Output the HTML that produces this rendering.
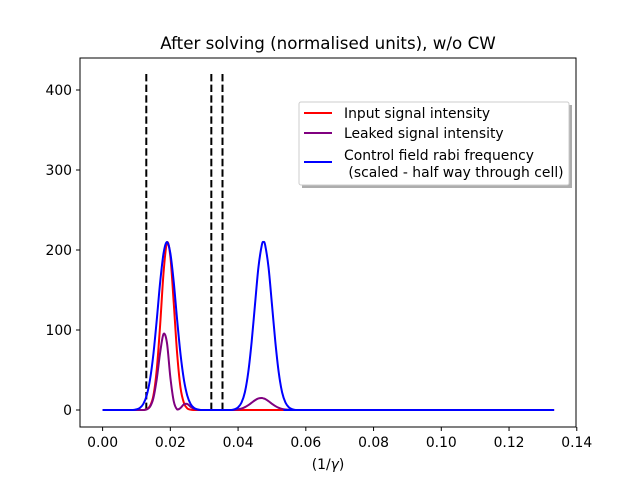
<!DOCTYPE html>
<html><head><meta charset="utf-8"><style>
body{margin:0;background:#fff;}
svg{display:block;font-family:"DejaVu Sans","Liberation Sans",sans-serif;}
</style></head><body>
<svg id="chart" width="640" height="480" viewBox="0 0 640 480">
<rect width="640" height="480" fill="#fff"/>
<text x="328" y="49" font-size="16.7" text-anchor="middle">After solving (normalised units), w/o CW</text>
<g id="plot"></g>
<rect x="80" y="58" width="496" height="369" fill="none" stroke="#000" stroke-width="1"/>
<g id="axes"></g>
<text x="328" y="469" font-size="13.9" text-anchor="middle">(1/<tspan font-style="italic">γ</tspan>)</text>
<g>
<rect x="302" y="105" width="270" height="83" fill="#999" opacity="0.8"/>
<rect x="299" y="102" width="270" height="83" fill="#fff" stroke="#ccc" rx="2"/>
<g><line x1="304" y1="113" x2="332" y2="113" stroke="red" stroke-width="2"/><text x="344" y="118" font-size="13.9">Input signal intensity</text></g>
<g><line x1="304" y1="133" x2="332" y2="133" stroke="purple" stroke-width="2"/><text x="344" y="138" font-size="13.9">Leaked signal intensity</text></g>
<g><line x1="304" y1="162" x2="332" y2="162" stroke="blue" stroke-width="2"/><text x="344" y="160" font-size="13.9">Control field rabi frequency</text><text x="344" y="177" font-size="13.9" xml:space="preserve"> (scaled - half way through cell)</text></g>
</g>
</svg>
<script>
const xs=[0,0.008,0.009,0.010,0.011,0.012,0.013,0.014,0.015,0.016,0.017,0.018,0.019,0.020,0.021,0.022,0.023,0.024,0.025,0.026,0.027,0.028,0.029,0.030,0.035,0.038,0.039,0.040,0.041,0.042,0.043,0.044,0.045,0.046,0.047,0.0475,0.048,0.049,0.050,0.051,0.052,0.053,0.054,0.055,0.056,0.057,0.060,0.1333];
const inputSignal=[0,0,0,0,0,0,1,5,18,51,107,172,209,192,134,71,28,9,2,0.4,0,0,0,0, 0,0, 0,0,0,0,0,0,0,0,0, 0, 0,0,0,0,0,0,0,0,0,0, 0,0];
const leakedSignal=[0,0,0,0,0,0,0.7,4,15,39,72,95,84,41,11,0.8,2.5,7,7.5,4,1.5,0.3,0,0, 0,0, 0.3,0.8,1.8,3.5,6,9.1,12.2,14.4,15, 14.5, 13.7,11,7.8,4.9,2.7,1.3,0.6,0.2,0,0, 0,0];
const controlField=[0,0,0,0.8,2.6,7.4,18,38,70,113,160,196,210,196,160,113,70,38,18,7.4,2.6,0.8,0,0, 0,0, 1,3.3,9.2,22,47,85,132,178,206, 210, 206,178,132,85,47,22,9.2,3.3,1,0, 0,0];
const dashX=[0.0129,0.0321,0.0354];
const dashTop=420;
const xTicks=[0,0.02,0.04,0.06,0.08,0.10,0.12,0.14];
const xTickLabels=["0.00","0.02","0.04","0.06","0.08","0.10","0.12","0.14"];
const yTicks=[0,100,200,300,400];
const yTickLabels=["0","100","200","300","400"];
const NS="http://www.w3.org/2000/svg";
const X=v=>102.6+v*3387;
const Y=v=>410-v*0.8;
const plot=document.getElementById('plot'),axes=document.getElementById('axes');
function mk(tag,attrs,parent){const e=document.createElementNS(NS,tag);for(const k in attrs)e.setAttribute(k,attrs[k]);parent.appendChild(e);return e;}
function smoothPath(pts){
  let d='M'+pts[0][0].toFixed(2)+','+pts[0][1].toFixed(2);
  for(let i=0;i<pts.length-1;i++){
    const p0=pts[Math.max(i-1,0)],p1=pts[i],p2=pts[i+1],p3=pts[Math.min(i+2,pts.length-1)];
    if(p2[0]-p1[0]>30){d+=' L'+p2[0].toFixed(2)+','+p2[1].toFixed(2);continue;}
    const c1x=p1[0]+(p2[0]-p0[0])/6,c1y=Math.min(410,p1[1]+(p2[1]-p0[1])/6);
    const c2x=p2[0]-(p3[0]-p1[0])/6,c2y=Math.min(410,p2[1]-(p3[1]-p1[1])/6);
    d+=' C'+c1x.toFixed(2)+','+c1y.toFixed(2)+' '+c2x.toFixed(2)+','+c2y.toFixed(2)+' '+p2[0].toFixed(2)+','+p2[1].toFixed(2);
  }
  return d;
}
function series(arr,color,name){
  const pts=xs.map((x,i)=>[X(x),Y(arr[i])]);
  const p=mk('path',{d:smoothPath(pts),fill:'none',stroke:color,'stroke-width':2,'stroke-linejoin':'round'},plot);
  
  
}
dashX.forEach((d,i)=>{
  const l=mk('line',{x1:X(d),x2:X(d),y1:Y(0),y2:Y(dashTop),stroke:'#000','stroke-width':2,'stroke-dasharray':'7.4,3.2'},plot);
  
  
});
series(inputSignal,'red','input-signal-line');
series(leakedSignal,'purple','leaked-signal-line');
series(controlField,'blue','control-field-line');
xTicks.forEach((t,i)=>{
  const g=mk('g',{},axes);
  
  
  mk('line',{x1:X(t),x2:X(t),y1:427,y2:431,stroke:'#000'},g);
  const tx=mk('text',{x:X(t),y:447,'font-size':13.9,'text-anchor':'middle'},g);tx.textContent=xTickLabels[i];
});
yTicks.forEach((t,i)=>{
  const g=mk('g',{},axes);
  
  
  mk('line',{x1:76,x2:80,y1:Y(t),y2:Y(t),stroke:'#000'},g);
  const tx=mk('text',{x:72,y:Y(t)+5,'font-size':13.9,'text-anchor':'end'},g);tx.textContent=yTickLabels[i];
});
</script>
</body></html>
